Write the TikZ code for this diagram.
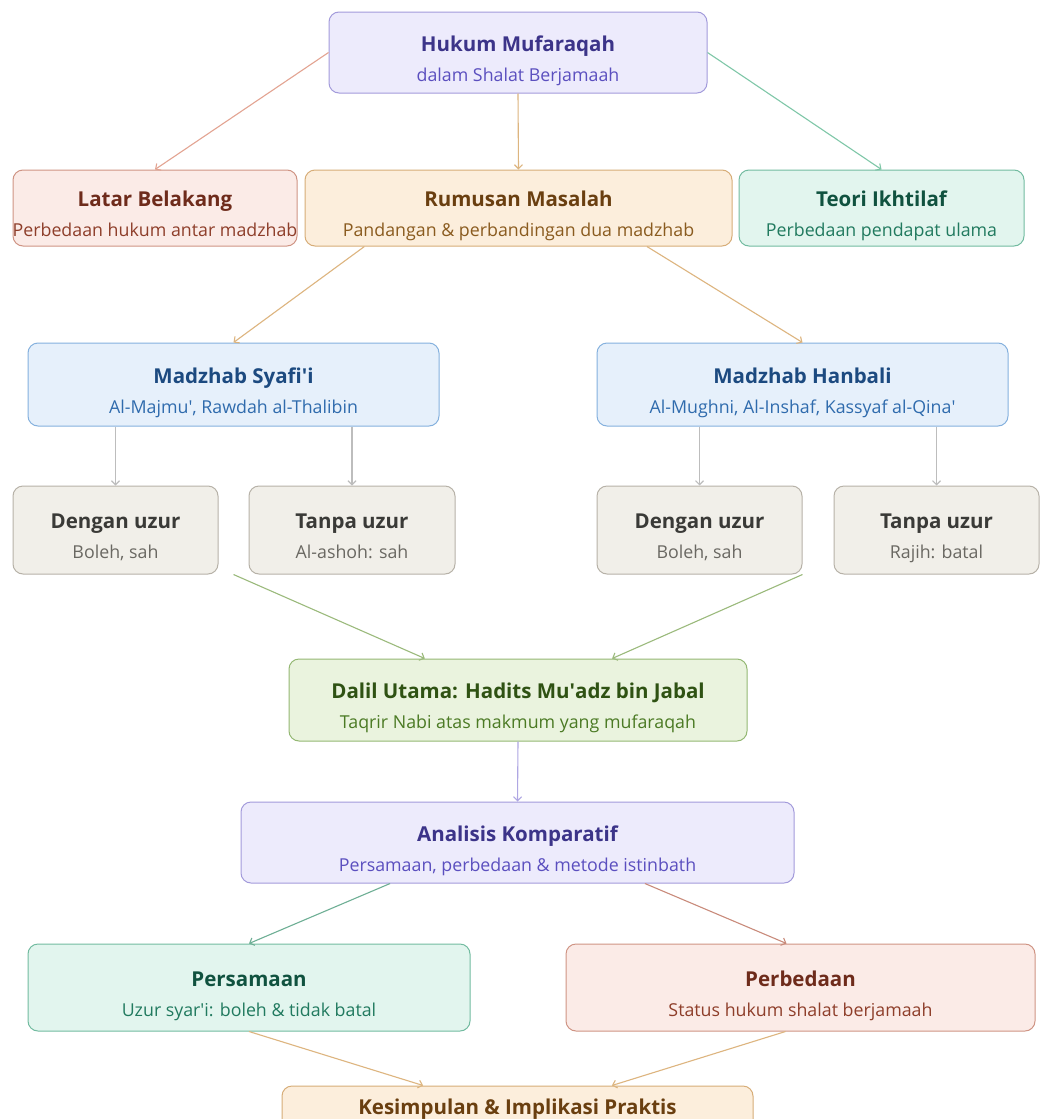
\documentclass[tikz,border=0pt]{standalone}
\usepackage{fontspec}
\setmainfont{Open Sans}
\usetikzlibrary{arrows.meta,calc}
% palettes: B border, F fill, T title, S subtitle
\definecolor{purB}{HTML}{A39BDB}\definecolor{purF}{HTML}{EDEBFC}\definecolor{purT}{HTML}{3C3489}\definecolor{purS}{HTML}{5B4FBF}
\definecolor{redB}{HTML}{CF9484}\definecolor{redF}{HTML}{FBEBE7}\definecolor{redT}{HTML}{6E2B1B}\definecolor{redS}{HTML}{8E3E2A}
\definecolor{ambB}{HTML}{D7AD78}\definecolor{ambF}{HTML}{FCEEDC}\definecolor{ambT}{HTML}{6A3F10}\definecolor{ambS}{HTML}{8A5B1F}
\definecolor{grnB}{HTML}{72BBA0}\definecolor{grnF}{HTML}{E2F5EE}\definecolor{grnT}{HTML}{10523F}\definecolor{grnS}{HTML}{217A5F}
\definecolor{bluB}{HTML}{85B1DE}\definecolor{bluF}{HTML}{E6F0FB}\definecolor{bluT}{HTML}{1C4A80}\definecolor{bluS}{HTML}{2F6BAD}
\definecolor{gryB}{HTML}{B7B2A8}\definecolor{gryF}{HTML}{F1EFE9}\definecolor{gryT}{HTML}{3A3A37}\definecolor{gryS}{HTML}{6A6862}
\definecolor{limB}{HTML}{94B873}\definecolor{limF}{HTML}{EAF3DE}\definecolor{limT}{HTML}{2F5213}\definecolor{limS}{HTML}{4B7A24}
\definecolor{eRed}{HTML}{E3A492}\definecolor{eAmb}{HTML}{DDB57F}\definecolor{eGrn}{HTML}{7FC7A8}
\definecolor{eGry}{HTML}{BDBDBD}\definecolor{eLim}{HTML}{9BBA7C}\definecolor{ePur}{HTML}{AFA7E3}
\definecolor{eTeal}{HTML}{6EAF95}\definecolor{eRose}{HTML}{C98B7B}
\newcommand\sq{\textquotesingle}
\tikzset{
  box/.style={rectangle, rounded corners=10pt, line width=1pt, inner sep=0pt},
  ttl/.style={anchor=base, inner sep=0pt, font=\bfseries\fontsize{20.5}{24}\selectfont},
  subt/.style={anchor=base, inner sep=0pt, font=\fontsize{17.8}{21}\selectfont},
  edge/.style={line width=1.1pt, -{Straight Barb[length=4pt,width=8pt]}},
}
% name, palette, cx, cy, w, h, title, subtitle
\newcommand\bx[8]{%
  \node[box, draw=#2B, fill=#2F, minimum width=#5pt, minimum height=#6pt] (#1) at (#3,#4) {};
  \node[ttl, text=#2T] (#1t) at ([yshift=1.5pt]#1.center) {#7};
  \node[subt, text=#2S] (#1s) at ([yshift=-28.5pt]#1.center) {#8};
}
\begin{document}
\begin{tikzpicture}[x=1pt,y=-1pt]
\useasboundingbox (0,0) rectangle (1041,1119);
\clip (0,0) rectangle (1041,1119);
\fill[white] (0,0) rectangle (1041,1119);

\bx{top}{pur}{518}{52.5}{378}{81}{Hukum Mufaraqah}{dalam Shalat Berjamaah}
\bx{lat}{red}{155}{208}{284}{76}{Latar Belakang}{Perbedaan hukum antar madzhab}
\bx{rum}{amb}{518.5}{208}{427}{76}{Rumusan Masalah}{Pandangan \& perbandingan dua madzhab}
\bx{teo}{grn}{881.5}{208}{285}{76}{Teori Ikhtilaf}{Perbedaan pendapat ulama}
\bx{syf}{blu}{233.5}{384.5}{411}{83}{Madzhab Syafi\sq i}{Al-Majmu\sq, Rawdah al-Thalibin}
\bx{han}{blu}{802.5}{384.5}{411}{83}{Madzhab Hanbali}{Al-Mughni, Al-Inshaf, Kassyaf al-Qina\sq}
\bx{dS}{gry}{115.5}{530}{205}{88}{Dengan uzur}{Boleh, sah}
\bx{tS}{gry}{352}{530}{206}{88}{Tanpa uzur}{Al-ashoh: sah}
\bx{dH}{gry}{699.5}{530}{205}{88}{Dengan uzur}{Boleh, sah}
\bx{tH}{gry}{936.5}{530}{205}{88}{Tanpa uzur}{Rajih: batal}
\bx{dal}{lim}{518}{700}{458}{82}{Dalil Utama: Hadits Mu\sq adz bin Jabal}{Taqrir Nabi atas makmum yang mufaraqah}
\bx{ana}{pur}{517.5}{842.5}{553}{81}{Analisis Komparatif}{Persamaan, perbedaan \& metode istinbath}
\bx{psm}{grn}{249}{987.5}{442}{87}{Persamaan}{Uzur syar\sq i: boleh \& tidak batal}
\bx{pbd}{red}{800.5}{987.5}{469}{87}{Perbedaan}{Status hukum shalat berjamaah}
\bx{kes}{amb}{517.5}{1116}{471}{60}{Kesimpulan \& Implikasi Praktis}{}

% connectors
\draw[edge, eRed] (top.west) -- (lat.north);
\draw[edge, eAmb] (top.south) -- (rum.north);
\draw[edge, eGrn] (top.east) -- (teo.north);
\draw[edge, eAmb] ($(rum.south west)!0.14!(rum.south east)$) -- (syf.north);
\draw[edge, eAmb] ($(rum.south west)!0.80!(rum.south east)$) -- (han.north);
\draw[edge, eGry] (dS.north |- syf.south) -- (dS.north);
\draw[edge, eGry] (tS.north |- syf.south) -- (tS.north);
\draw[edge, eGry] (dH.north |- han.south) -- (dH.north);
\draw[edge, eGry] (tH.north |- han.south) -- (tH.north);
\draw[edge, eLim] ($(dS.south east)!0.5!(tS.south west)$) -- ($(dal.north west)!0.297!(dal.north east)$);
\draw[edge, eLim] (dH.south east) -- ($(dal.north west)!0.705!(dal.north east)$);
\draw[edge, ePur] (dal.south) -- (ana.north);
\draw[edge, eTeal] ($(ana.south west)!0.27!(ana.south east)$) -- (psm.north);
\draw[edge, eRose] ($(ana.south west)!0.73!(ana.south east)$) -- ([xshift=-14pt]pbd.north);
\draw[edge, eAmb] (psm.south) -- ($(kes.north west)!0.30!(kes.north east)$);
\draw[edge, eAmb] ([xshift=-15pt]pbd.south) -- ($(kes.north west)!0.70!(kes.north east)$);
\end{tikzpicture}
\end{document}
